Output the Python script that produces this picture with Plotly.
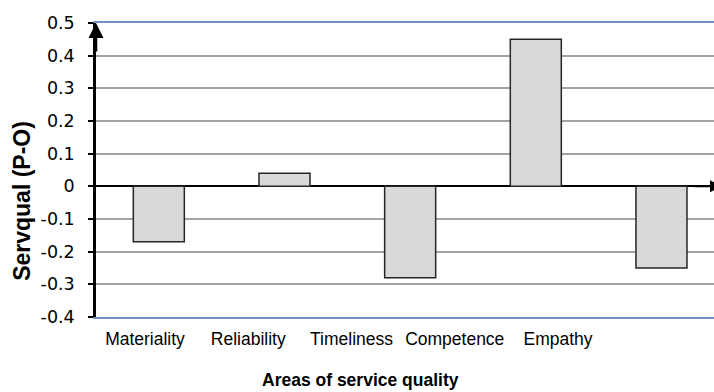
import plotly.graph_objects as go

# Service quality gap scores (perception minus expectation)
categories = ["Materiality", "Reliability", "Timeliness", "Competence", "Empathy"]
servqual = [-0.17, 0.04, -0.28, 0.45, -0.25]

y_tick_values = [0.5, 0.4, 0.3, 0.2, 0.1, 0.0, -0.1, -0.2, -0.3, -0.4]
y_tick_labels = ["0.5", "0.4", "0.3", "0.2", "0.1", "0", "-0.1", "-0.2", "-0.3", "-0.4"]

FONT = "Liberation Sans, Arial, sans-serif"
NUM_FONT = "DejaVu Sans, Liberation Sans, sans-serif"
GRID = "#a3a3a3"
FRAME_BLUE = "#7093c4"

fig = go.Figure()

fig.add_trace(go.Bar(
    x=categories,
    y=servqual,
    width=0.406,
    marker=dict(color="#d9d9d9", line=dict(color="#262626", width=1.5)),
    showlegend=False,
    hoverinfo="x+y",
))

# helper trace so the label axis is rendered
fig.add_trace(go.Scatter(
    x=[0], y=[0], xaxis="x2", yaxis="y",
    mode="markers", marker=dict(opacity=0),
    showlegend=False, hoverinfo="skip",
))

fig.update_layout(
    width=714,
    height=392,
    margin=dict(l=96, r=0, t=23, b=75),
    paper_bgcolor="white",
    plot_bgcolor="white",
    font=dict(family=FONT, size=17, color="black"),
    xaxis=dict(
        type="category",
        categoryorder="array",
        categoryarray=categories,
        range=[-0.5, 4.418],
        showticklabels=False,
        ticks="",
        showgrid=False,
        showline=True,
        linecolor=FRAME_BLUE,
        linewidth=1.5,
        mirror=True,
        zeroline=False,
    ),
    xaxis2=dict(
        overlaying="x",
        anchor="y",
        side="bottom",
        type="linear",
        range=[-0.4746, 5.511],
        tickmode="array",
        tickvals=list(range(len(categories))),
        ticktext=categories,
        ticks="",
        showgrid=False,
        showline=False,
        zeroline=False,
        ticklabelstandoff=9,
        tickfont=dict(family=FONT, size=17.5, color="black"),
    ),
    yaxis=dict(
        range=[-0.4, 0.5],
        tickmode="array",
        tickvals=y_tick_values,
        ticktext=y_tick_labels,
        ticks="outside",
        ticklen=5,
        tickwidth=1.5,
        tickcolor="black",
        ticklabelstandoff=10,
        tickfont=dict(family=NUM_FONT, size=17.5, color="black"),
        showgrid=True,
        gridcolor=GRID,
        gridwidth=1.5,
        showline=True,
        linecolor="black",
        linewidth=2.5,
        zeroline=True,
        zerolinecolor="black",
        zerolinewidth=2,
    ),
    annotations=[
        # arrowhead on top of the value axis
        dict(
            xref="paper", yref="y", x=0, y=0.5,
            axref="pixel", ayref="pixel", ax=0, ay=30,
            text="", showarrow=True,
            arrowhead=2, arrowsize=1.2, arrowwidth=2.5, arrowcolor="black",
        ),
        # arrowhead at the end of the zero line, mostly beyond the edge
        dict(
            xref="paper", yref="y", x=1, xshift=9, y=0,
            axref="pixel", ayref="pixel", ax=-30, ay=0,
            text="", showarrow=True,
            arrowhead=2, arrowsize=1.2, arrowwidth=2, arrowcolor="black",
        ),
        dict(
            xref="paper", yref="paper", x=0.4288, y=-0.214,
            xanchor="center", yanchor="middle",
            text="<b>Areas of service quality</b>", showarrow=False,
            font=dict(family=FONT, size=17.5, color="black"),
        ),
        dict(
            xref="paper", yref="paper", x=0, xshift=-74, y=0.395,
            xanchor="center", yanchor="middle", textangle=-90,
            text="<b>Servqual (P-O)</b>", showarrow=False,
            font=dict(family=FONT, size=23, color="black"),
        ),
    ],
)

fig.write_html("out.html")
